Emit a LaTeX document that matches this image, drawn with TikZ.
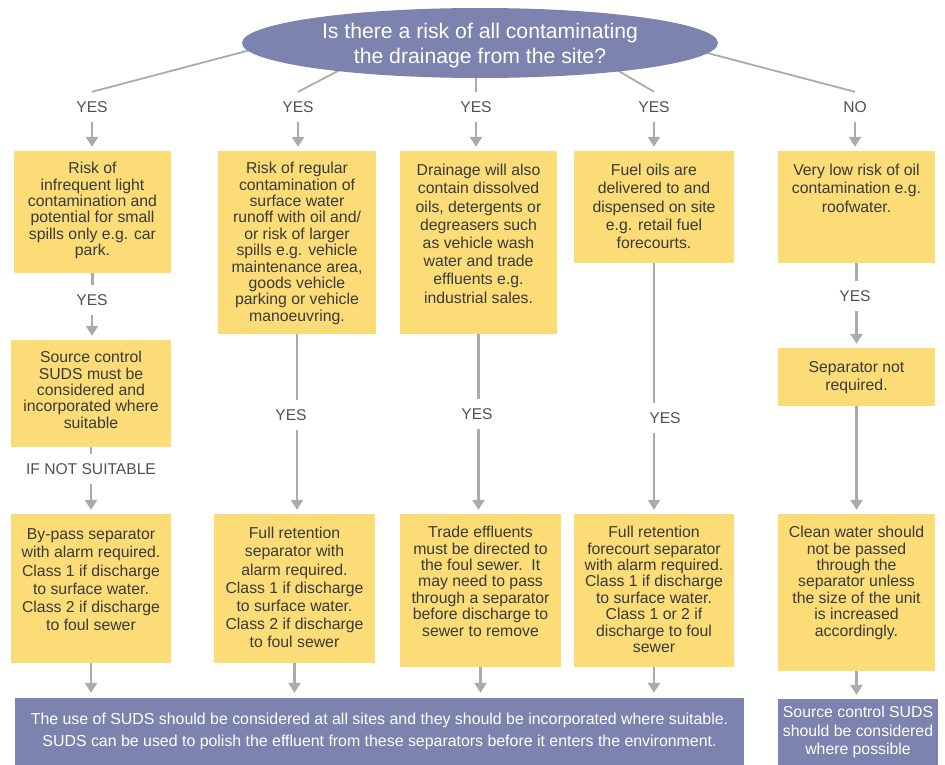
\documentclass[tikz,border=0pt]{standalone}
\usepackage{fontspec}
\setmainfont{Liberation Sans}
\usetikzlibrary{arrows.meta,shapes.geometric,backgrounds,calc}
\definecolor{boxyellow}{HTML}{FCDC77}
\definecolor{suds}{HTML}{7C83AF}
\definecolor{conn}{HTML}{ABABAB}
\definecolor{ink}{HTML}{3A3A3A}
\definecolor{lblink}{HTML}{505050}
% width, height, leading, first baseline, text
\newcommand\ybtext[5]{\parbox[c][#2pt][t]{#1pt}{\fontsize{15.8}{#3}\selectfont\centering\rule{0pt}{#4pt}#5}}
\begin{document}
\begin{tikzpicture}[x=1pt,y=-1pt,
  ybox/.style={fill=boxyellow,inner sep=0pt,text=ink},
  sudsbox/.style={fill=suds,inner sep=0pt,text=white,align=center},
  lbl/.style={inner sep=0pt,minimum height=30pt,text=lblink,font=\fontsize{15.6}{18}\selectfont},
  ln/.style={draw=conn,line width=2.5pt},
  dl/.style={draw=conn,line width=1.8pt},
  arr/.style={draw=conn,line width=2.5pt,-{Triangle[width=12pt,length=10pt]},shorten >=4pt}]
\useasboundingbox (0,0) rectangle (945,765);

% question
\node[ellipse,fill=suds,minimum width=476pt,minimum height=70pt,inner sep=0pt,text=white,align=center,text depth=0pt,
  font=\fontsize{21.2}{25}\selectfont] (ell) at (480,43) {Is there a risk of all contaminating\\the drainage from the site?};
\coordinate (e1) at ($(ell.center)+(-203,0)$);
\coordinate (e2) at ($(ell.center)+(-120,16.5)$);
\coordinate (e3) at ($(ell.center)+(-4,21)$);
\coordinate (e4) at ($(ell.center)+(120,17)$);
\coordinate (e5) at ($(ell.center)+(197,2)$);

% first labels
\node[lbl] (y1) at (92,107) {YES};
\node[lbl] (y2) at (298,107) {YES};
\node[lbl] (y3) at (476,107) {YES};
\node[lbl] (y4) at (654,107) {YES};
\node[lbl] (y5) at (855,107) {NO};

% top row boxes
\node[ybox] (b1) at (92.5,212) {\ybtext{157}{122}{16.4}{22.6}{Risk of\\infrequent light\\contamination and\\potential for small\\spills only e.g. car\\park.}};
\node[ybox] (b2) at (297,242.5) {\ybtext{158}{183}{16.4}{22.6}{Risk of regular\\contamination of\\surface water\\runoff with oil and/\\or risk of larger\\spills e.g. vehicle\\maintenance area,\\goods vehicle\\parking or vehicle\\manoeuvring.}};
\node[ybox] (b3) at (478.5,242.5) {\ybtext{157}{183}{18.2}{24.6}{Drainage will also\\contain dissolved\\oils, detergents or\\degreasers such\\as vehicle wash\\water and trade\\effluents e.g.\\industrial sales.}};
\node[ybox] (b4) at (654,207) {\ybtext{160}{112}{18.2}{24.6}{Fuel oils are\\delivered to and\\dispensed on site\\e.g. retail fuel\\forecourts.}};
\node[ybox] (b5) at (856.5,207) {\ybtext{157}{112}{18.2}{24.6}{Very low risk of oil\\contamination e.g.\\roofwater.}};

% middle labels
\node[lbl] (y1b) at (92,300) {YES};
\node[lbl] (ins) at (91,469) {IF NOT SUITABLE};
\node[lbl] (y2b) at (291,415) {YES};
\node[lbl] (y3b) at (477,414) {YES};
\node[lbl] (y4b) at (665,418) {YES};
\node[lbl] (y5b) at (855,296) {YES};

% second level boxes
\node[ybox] (b1b) at (91,393.5) {\ybtext{160}{107}{16.4}{22.6}{Source control\\SUDS must be\\considered and\\incorporated where\\suitable}};
\node[ybox] (b5b) at (856.5,377) {\ybtext{157}{58}{18.2}{24.6}{Separator not\\required.}};

% third level boxes
\node[ybox] (b1c) at (91,588.5) {\ybtext{160}{149}{18.2}{25.6}{By-pass separator\\with alarm required.\\Class 1 if discharge\\to surface water.\\Class 2 if discharge\\to foul sewer}};
\node[ybox] (b2b) at (294.5,588.5) {\ybtext{161}{149}{18.2}{24.6}{Full retention\\separator with\\alarm required.\\Class 1 if discharge\\to surface water.\\Class 2 if discharge\\to foul sewer}};
\node[ybox] (b3b) at (480.5,590.5) {\ybtext{161}{153}{16.4}{23.6}{Trade effluents\\must be directed to\\the foul sewer.\ \ It\\may need to pass\\through a separator\\before discharge to\\sewer to remove}};
\node[ybox] (b4b) at (654,590.5) {\ybtext{160}{153}{16.4}{23.6}{Full retention\\forecourt separator\\with alarm required.\\Class 1 if discharge\\to surface water.\\Class 1 or 2 if\\discharge to foul\\sewer}};
\node[ybox] (b5c) at (856.5,592.5) {\ybtext{157}{157}{16.4}{23.6}{Clean water should\\not be passed\\through the\\separator unless\\the size of the unit\\is increased\\accordingly.}};

% bottom boxes
\node[sudsbox,minimum width=729pt,minimum height=67pt,font=\fontsize{15.9}{21.5}\selectfont] (bar) at (379.5,731.5)
  {The use of SUDS should be considered at all sites and they should be incorporated where suitable.\\SUDS can be used to polish the effluent from these separators before it enters the environment.};
\node[sudsbox,minimum width=160pt,minimum height=66pt,font=\fontsize{15.8}{18.5}\selectfont] (b5d) at (858,732)
  {Source control SUDS\\should be considered\\where possible};

% connectors from the question
\begin{scope}[on background layer]
\draw[dl] (e1) -- (y1.north);
\draw[dl] (e2) -- (y2.north);
\draw[dl] (e3) -- (e3 |- y3.north);
\draw[dl] (e4) -- (y4.north);
\draw[dl] (e5) -- (y5.north);
\end{scope}
\draw[arr] (y1.south) -- (y1.south |- b1.north);
\draw[arr] (y2.south) -- (y2.south |- b2.north);
\draw[arr] (y3.south) -- (y3.south |- b3.north);
\draw[arr] (y4.south) -- (y4.south |- b4.north);
\draw[arr] (y5.south) -- (y5.south |- b5.north);

% column 1
\draw[ln] (b1.south) -- (b1.south |- y1b.north);
\draw[arr] (y1b.south) -- (y1b.south |- b1b.north);
\draw[ln] (b1b.south) -- (b1b.south |- ins.north);
\draw[arr] (ins.south) -- (ins.south |- b1c.north);
\draw[arr,shorten >=5pt] (b1c.south) -- (b1c.south |- bar.north);

% column 2
\draw[ln] (b2.south) -- (b2.south |- y2b.north);
\draw[arr] (b2.south |- y2b.south) -- (b2.south |- b2b.north);
\draw[arr,shorten >=5pt] (b2b.south) -- (b2b.south |- bar.north);

% column 3
\draw[ln] (b3.south) -- (b3.south |- y3b.north);
\draw[arr] (b3.south |- y3b.south) -- (b3.south |- b3b.north);
\draw[arr,shorten >=5pt] (b3b.south) -- (b3b.south |- bar.north);

% column 4
\draw[ln] (b4.south) -- (b4.south |- y4b.north);
\draw[arr] (b4.south |- y4b.south) -- (b4.south |- b4b.north);
\draw[arr,shorten >=5pt] (b4b.south) -- (b4b.south |- bar.north);

% column 5
\draw[ln] (b5.south) -- (b5.south |- y5b.north);
\draw[arr] (b5.south |- y5b.south) -- (b5.south |- b5b.north);
\draw[arr] (b5b.south) -- (b5b.south |- b5c.north);
\draw[arr] (b5c.south) -- (b5c.south |- b5d.north);
\end{tikzpicture}
\end{document}
